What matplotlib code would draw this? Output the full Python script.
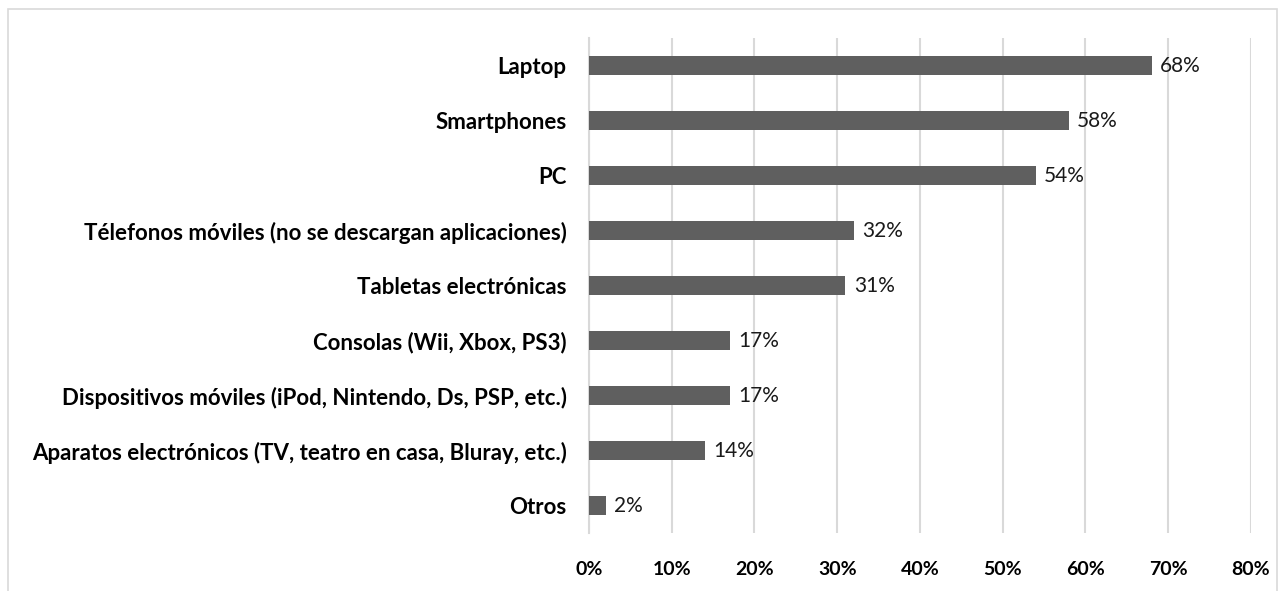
import matplotlib.pyplot as plt
from matplotlib.patches import Rectangle
from matplotlib.ticker import FuncFormatter

# Dispositivos usados (porcentaje de respuestas)
dispositivos = [
    "Laptop",
    "Smartphones",
    "PC",
    "Télefonos móviles (no se descargan aplicaciones)",
    "Tabletas electrónicas",
    "Consolas (Wii, Xbox, PS3)",
    "Dispositivos móviles (iPod, Nintendo, Ds, PSP, etc.)",
    "Aparatos electrónicos (TV, teatro en casa, Bluray, etc.)",
    "Otros",
]
porcentajes = [68, 58, 54, 32, 31, 17, 17, 14, 2]
ticks_x = [0, 10, 20, 30, 40, 50, 60, 70, 80]

plt.rcParams['font.family'] = ['Lato', 'DejaVu Sans']

fig = plt.figure(figsize=(12.82, 5.91), dpi=100)
ax = fig.add_axes([0.4594, 0.0981, 0.5164, 0.8376])

# marco gris alrededor del grafico
fig.patches.append(Rectangle((8 / 1282, -0.05), 1269 / 1282, 1.05 - 9 / 591,
                             transform=fig.transFigure, fill=False,
                             edgecolor="#d9d9d9", linewidth=1.2))

pos = list(range(len(dispositivos)))
ax.barh(pos, porcentajes, height=0.36, color="#5f5f5f", zorder=3)

for y, v in zip(pos, porcentajes):
    ax.text(v + 1.0, y, f"{v}%", va="center", ha="left", fontsize=15, color="#1a1a1a")

ax.set_yticks(pos)
ax.set_yticklabels(dispositivos, fontsize=16, fontweight="bold")
ax.set_ylim(len(dispositivos) - 0.5, -0.5)

ax.set_xlim(0, 80)
ax.set_xticks(ticks_x)
ax.xaxis.set_major_formatter(FuncFormatter(lambda v, p: f"{v:.0f}%"))
for t in ax.get_xticklabels():
    t.set_fontweight("bold")
    t.set_fontsize(14)

ax.grid(axis="x", color="#d9d9d9", linewidth=1.5, zorder=0)
ax.tick_params(axis="both", length=0)
ax.tick_params(axis="x", pad=20)
ax.tick_params(axis="y", pad=16)
for s in ["top", "right", "bottom"]:
    ax.spines[s].set_visible(False)
ax.spines["left"].set_color("#d9d9d9")
ax.spines["left"].set_linewidth(1.5)

fig.savefig("out.png", dpi=100)
